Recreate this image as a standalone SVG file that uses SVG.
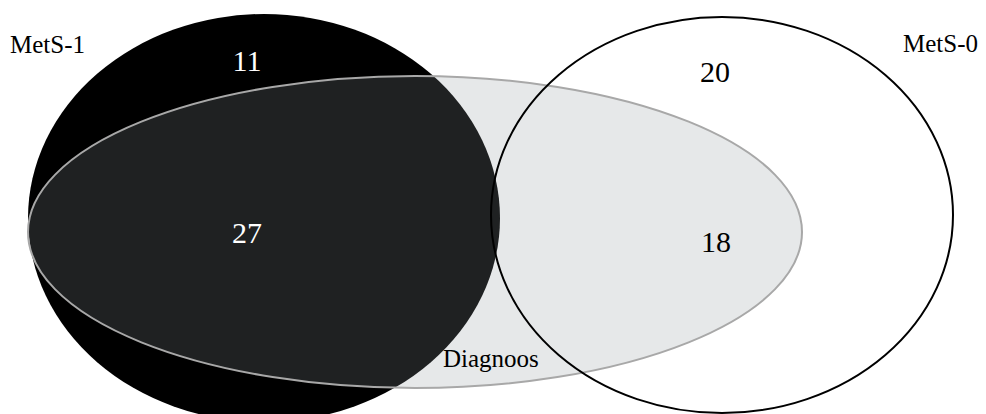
<svg xmlns="http://www.w3.org/2000/svg" width="986" height="414" viewBox="0 0 986 414">
<style>
text { font-family: "Liberation Serif", "Times New Roman", serif; }
.lbl { font-size: 25px; fill: #000; }
.num { font-size: 30px; text-anchor: middle; }
</style>
<rect width="986" height="414" fill="#fff"/>
<g id="mets1">
  <ellipse cx="264" cy="218" rx="236" ry="204" fill="#000"/>
</g>
<g id="diagnoos">
  <ellipse cx="415" cy="232" rx="387" ry="156" fill="rgb(141,150,155)" fill-opacity="0.22" stroke="#a8a8a8" stroke-width="2"/>
</g>
<g id="mets0">
  <ellipse cx="722" cy="215" rx="231" ry="198" fill="none" stroke="#000" stroke-width="2"/>
</g>
<g id="labels">
  <text class="lbl" x="10" y="53">MetS-1</text>
  <text class="lbl" x="903" y="52">MetS-0</text>
  <text class="lbl" x="443" y="367">Diagnoos</text>
  <text class="num" x="247" y="71" fill="#fff">11</text>
  <text class="num" x="247" y="243" fill="#fff">27</text>
  <text class="num" x="715" y="82" fill="#000">20</text>
  <text class="num" x="716" y="252" fill="#000">18</text>
</g>
</svg>
